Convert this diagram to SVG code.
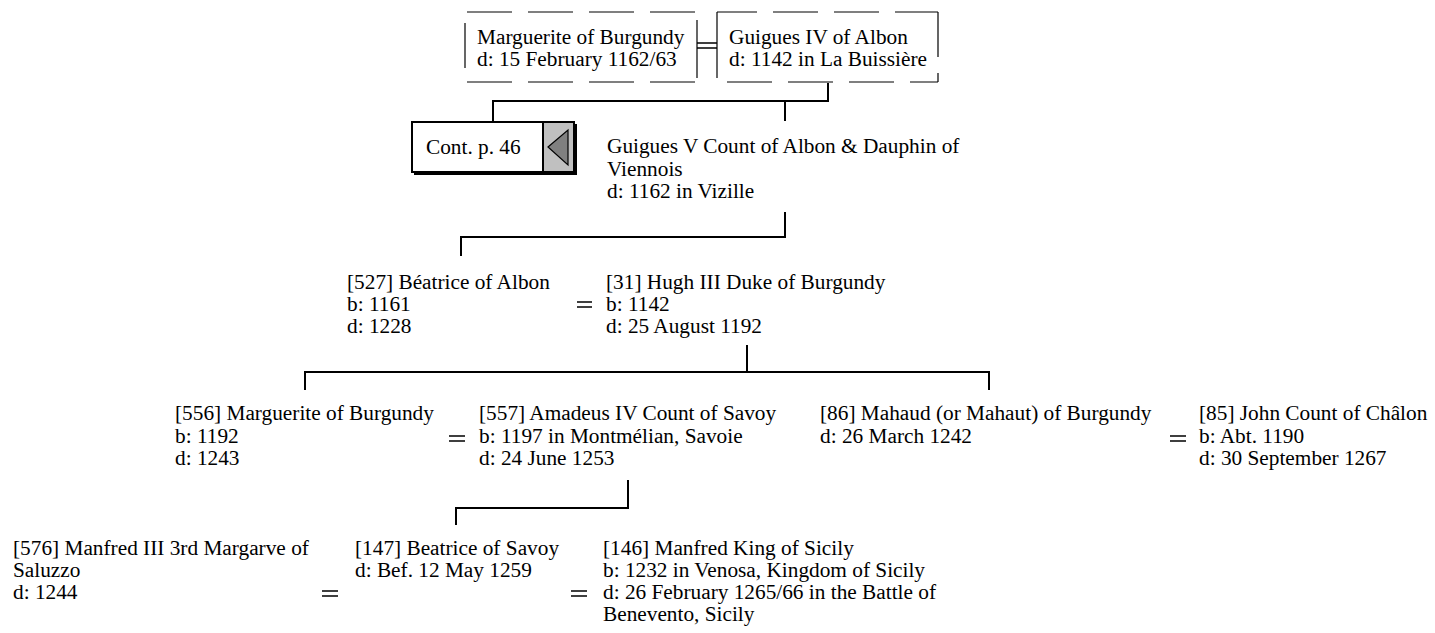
<svg xmlns="http://www.w3.org/2000/svg" width="1435" height="633" viewBox="0 0 1435 633">
<style>
text{font-family:"Liberation Serif","Times New Roman",serif;font-size:21.3px;fill:#000}
.c{stroke:#000;stroke-width:2;fill:none}
.m{stroke:#000;stroke-width:1.6;fill:none}
.d{stroke:#000;stroke-width:1.2;fill:none;stroke-dasharray:45 16}
.s{stroke:#000;stroke-width:1.2;fill:none}
</style>
<rect width="1435" height="633" fill="#fff"/>
<g id="connectors">
<path class="c" d="M828 83V101H493V121M785 101V121"/>
<path class="c" d="M785 212V237H461V256"/>
<path class="c" d="M305 390V372H989V390M747 345V372"/>
<path class="c" d="M628 480V508H456V525"/>
<path class="m" d="M697 43H717M697 48H717"/>
<path class="m" d="M577 302H592M577 307H592"/>
<path class="m" d="M449 436H465M449 441H465"/>
<path class="m" d="M1170 436H1186M1170 441H1186"/>
<path class="m" d="M322 591H338M322 596H338"/>
<path class="m" d="M571 591H587M571 596H587"/>
</g>
<g id="n-marguerite-top">
<line class="d" x1="467" y1="12" x2="697" y2="12"/>
<line class="d" x1="467" y1="82" x2="697" y2="82"/>
<line class="s" x1="465" y1="23" x2="465" y2="68"/>
<line class="s" x1="697" y1="20" x2="697" y2="78"/>
<text x="477" y="44">Marguerite of Burgundy</text>
<text x="477" y="66">d: 15 February 1162/63</text>
</g>
<g id="n-guigues4">
<line class="d" x1="717" y1="12" x2="938" y2="12" stroke-dashoffset="5"/>
<line class="d" x1="727" y1="82" x2="938" y2="82"/>
<line class="s" x1="717" y1="12" x2="717" y2="78"/>
<line class="d" x1="938" y1="12" x2="938" y2="82" stroke-dasharray="32 8 30 8"/>
<text x="729" y="44">Guigues IV of Albon</text>
<text x="729" y="66">d: 1142 in La Buissière</text>
</g>
<g id="n-cont">
<rect x="412" y="122" width="162" height="50" fill="#fff" stroke="#000" stroke-width="2"/>
<rect x="543" y="122" width="31" height="50" fill="#c0c0c0" stroke="#000" stroke-width="2"/>
<path d="M576 124V174H414" stroke="#000" stroke-width="2" fill="none"/>
<polygon points="548,147 568,130 568,165" fill="#808080" stroke="#000" stroke-width="1.2"/>
<text x="426" y="154">Cont. p. 46</text>
</g>
<g id="n-guigues5">
<text x="607" y="153">Guigues V Count of Albon &amp; Dauphin of</text>
<text x="607" y="176">Viennois</text>
<text x="607" y="198">d: 1162 in Vizille</text>
</g>
<g id="n-beatrice-albon">
<text x="347" y="289">[527] Béatrice of Albon</text>
<text x="347" y="311">b: 1161</text>
<text x="347" y="333">d: 1228</text>
</g>
<g id="n-hugh3">
<text x="606" y="289">[31] Hugh III Duke of Burgundy</text>
<text x="606" y="311">b: 1142</text>
<text x="606" y="333">d: 25 August 1192</text>
</g>
<g id="n-marguerite-556">
<text x="175" y="420">[556] Marguerite of Burgundy</text>
<text x="175" y="443">b: 1192</text>
<text x="175" y="465">d: 1243</text>
</g>
<g id="n-amadeus4">
<text x="479" y="420">[557] Amadeus IV Count of Savoy</text>
<text x="479" y="443">b: 1197 in Montmélian, Savoie</text>
<text x="479" y="465">d: 24 June 1253</text>
</g>
<g id="n-mahaud">
<text x="820" y="420">[86] Mahaud (or Mahaut) of Burgundy</text>
<text x="820" y="443">d: 26 March 1242</text>
</g>
<g id="n-john">
<text x="1199" y="420">[85] John Count of Châlon</text>
<text x="1199" y="443">b: Abt. 1190</text>
<text x="1199" y="465">d: 30 September 1267</text>
</g>
<g id="n-manfred3">
<text x="13" y="555">[576] Manfred III 3rd Margarve of</text>
<text x="13" y="577">Saluzzo</text>
<text x="13" y="599">d: 1244</text>
</g>
<g id="n-beatrice-savoy">
<text x="355" y="555">[147] Beatrice of Savoy</text>
<text x="355" y="577">d: Bef. 12 May 1259</text>
</g>
<g id="n-manfred-sicily">
<text x="603" y="555">[146] Manfred King of Sicily</text>
<text x="603" y="577">b: 1232 in Venosa, Kingdom of Sicily</text>
<text x="603" y="599">d: 26 February 1265/66 in the Battle of</text>
<text x="603" y="621">Benevento, Sicily</text>
</g>
</svg>
